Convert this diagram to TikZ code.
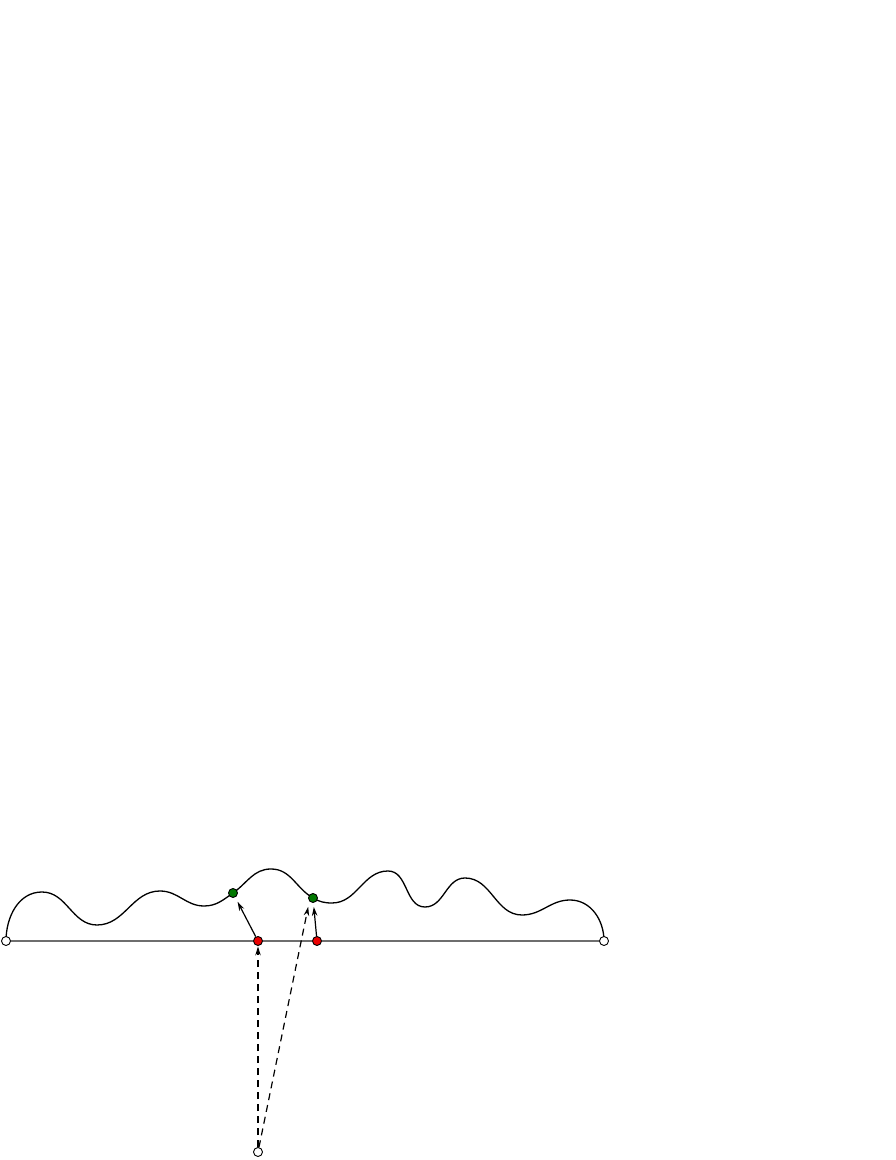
\documentclass[tikz,border=0pt]{standalone}
\usetikzlibrary{arrows.meta}
\definecolor{dotgreen}{RGB}{0,120,0}
\definecolor{dotred}{RGB}{235,0,0}
\definecolor{basegray}{RGB}{110,110,110}
\begin{document}
\begin{tikzpicture}[x=1pt,y=1pt,
  dot/.style={circle,draw=black,line width=0.9pt,inner sep=0pt,minimum size=9pt},
  whitedot/.style={dot,fill=white},
  reddot/.style={dot,fill=dotred},
  greendot/.style={dot,fill=dotgreen},
  wave/.style={line width=1.3pt,black},
  baseline/.style={line width=1.7pt,basegray},
  arr/.style={line width=1.2pt,-{Stealth[length=9pt,width=5.5pt]}},
  darr/.style={arr,dash pattern=on 7pt off 5pt}]
\useasboundingbox (0,0) rectangle (896,1160);
% positions
\coordinate (pL) at (6,219);
\coordinate (pR) at (604,219);
\coordinate (pg1) at (233,267);
\coordinate (pg2) at (313,262);
% curve
\draw[wave] (pL) to[out=90,in=180] (42,268)
  to[out=0,in=180] (97,235)
  to[out=0,in=180] (160,269)
  to[out=0,in=180] (204,254)
  to[out=0,in=215] (pg1)
  to[out=35,in=180] (271,291)
  to[out=0,in=150] (pg2)
  to[out=-30,in=180] (332,257)
  to[out=0,in=180] (388,289)
  to[out=0,in=180] (425,253)
  to[out=0,in=180] (465,282)
  to[out=0,in=180] (522,245)
  to[out=0,in=180] (570,260)
  to[out=0,in=90] (pR);
% nodes
\node[whitedot] (L) at (pL) {};
\node[whitedot] (R) at (pR) {};
\node[reddot] (r1) at (258,219) {};
\node[reddot] (r2) at (317,219) {};
\node[greendot] (g1) at (pg1) {};
\node[greendot] (g2) at (pg2) {};
\node[whitedot] (B) at (258,8) {};
% baseline
\draw[baseline] (L) -- (r1) -- (r2) -- (R);
% connectors
\draw[arr,shorten >=5pt] (r1) -- (g1);
\draw[arr,shorten >=4pt] (r2) -- (g2);
\draw[darr,shorten >=0.5pt] (B) -- (r1);
\draw[darr,shorten >=4pt] (B) -- ([xshift=-4pt]g2.south);
\end{tikzpicture}
\end{document}
